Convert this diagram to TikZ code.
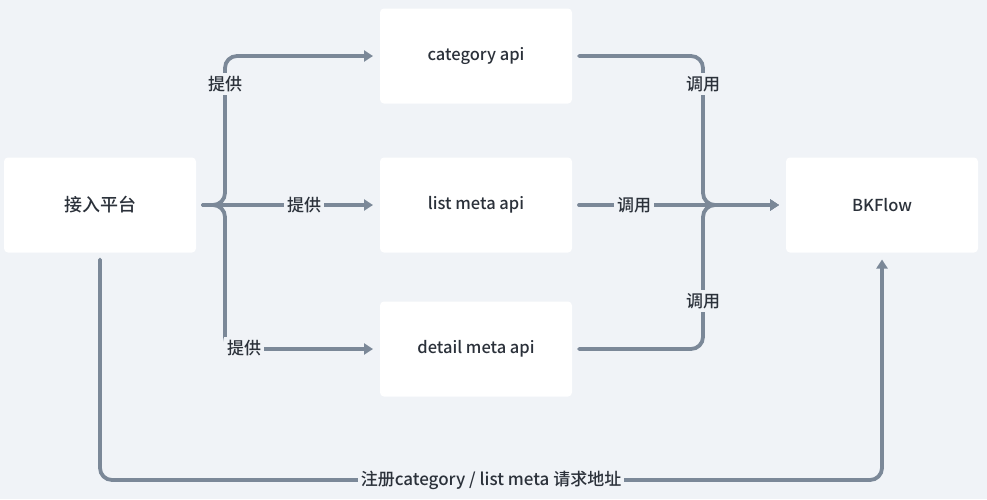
\documentclass[tikz,border=0pt]{standalone}
\usepackage{fontspec}
\setmainfont{Noto Sans CJK SC}[UprightFont={* Medium}]
\usepackage{tikz}
\usetikzlibrary{arrows.meta,calc}
\definecolor{bgc}{HTML}{F0F3F7}
\definecolor{linec}{HTML}{7B8898}
\definecolor{textc}{HTML}{2B313A}
\tikzset{
	box/.style={fill=white,rounded corners=4pt,minimum width=192pt,minimum height=95pt,outer sep=7pt,text=textc,font=\fontsize{16.5}{19}\selectfont},
	conn/.style={draw=linec,line width=3.8pt,line cap=round,rounded corners=12pt},
	tip/.style={-{Triangle[length=9pt,width=11pt]}},
	lbl/.style={fill=bgc,text=textc,inner sep=3pt,font=\fontsize{17}{19}\selectfont}
}
\begin{document}
\begin{tikzpicture}[x=1pt,y=-1pt]
			\fill[bgc](0,0) rectangle (987,499);
			\node[box,font=\fontsize{18}{20}\selectfont](acc) at(100,205){接入平台};
			\node[box](cat) at(476,56){category api};
			\node[box](lst) at(476,205){list meta api};
			\node[box](det) at(476,349){detail meta api};
			\node[box](bk) at(882,205){BKFlow};
			\coordinate(split) at(225,205);
			\coordinate(merge) at(703,205);
			\coordinate(low) at(491,480);
			
			\draw[conn,tip](acc.east) -- (split) |- (cat.west);
			\draw[conn,tip](acc.east) -- (lst.west);
			\draw[conn,tip](acc.east) -- (split) |- (det.west);
			
			\draw[conn,tip](cat.east) -| (merge) -- (bk.west);
			\draw[conn,tip](lst.east) -- (bk.west);
			\draw[conn,tip](det.east) -| (merge) -- (bk.west);
			
			\draw[conn,tip](acc.south) |- (low) -| (bk.south);
			
			\node[lbl](p1) at(225,84){提供};
			\node[lbl](p2) at(304,205){提供};
			\node[lbl](p3) at(244,348){提供};
			\node[lbl](d1) at(703,84){调用};
			\node[lbl](d2) at(634,205){调用};
			\node[lbl](d3) at(703,301){调用};
			\node[lbl](reg) at(low){注册category / list meta 请求地址};
		\end{tikzpicture}
\end{document}
